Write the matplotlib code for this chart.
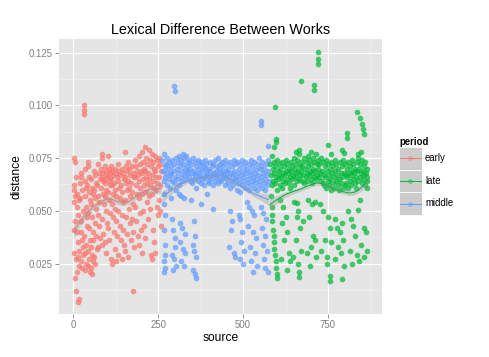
import matplotlib
matplotlib.use("Agg")
import matplotlib.pyplot as plt
from matplotlib.lines import Line2D
from matplotlib.patches import Rectangle
from matplotlib.legend_handler import HandlerBase
from matplotlib.ticker import FixedLocator

plt.rcParams["font.family"] = ["Liberation Sans", "DejaVu Sans"]

# 数据：每个作品的 (source, distance)
periods = ["early", "late", "middle"]
colors = {"early": "#F8766D", "late": "#00BA38", "middle": "#619CFF"}

early_pts = [
    (31, 0.100), (31, 0.098), (32, 0.096),
    (3, 0.075), (4, 0.073), (2, 0.062), (1, 0.060), (5, 0.057), (2, 0.054),
    (6, 0.045), (3, 0.041), (1, 0.030), (4, 0.018), (9, 0.012), (14, 0.007),
    (18, 0.008), (12, 0.021),
    (8, 0.066), (10, 0.058), (12, 0.052), (15, 0.048), (11, 0.040), (14, 0.035),
    (16, 0.031), (13, 0.028), (17, 0.024), (9, 0.027), (19, 0.063), (18, 0.055),
    (22, 0.068), (24, 0.066), (26, 0.060), (21, 0.056), (28, 0.050), (23, 0.045),
    (25, 0.036), (27, 0.033), (29, 0.029), (22, 0.026), (26, 0.023), (24, 0.040),
    (33, 0.070), (35, 0.064), (38, 0.061), (34, 0.057), (36, 0.052), (39, 0.047),
    (32, 0.038), (37, 0.034), (35, 0.030), (38, 0.025), (33, 0.022), (40, 0.043),
    (42, 0.073), (44, 0.071), (47, 0.066), (41, 0.062), (45, 0.059), (48, 0.055),
    (43, 0.049), (46, 0.042), (49, 0.036), (44, 0.031), (47, 0.027), (42, 0.024),
    (48, 0.021),
    (52, 0.065), (55, 0.061), (58, 0.058), (51, 0.053), (54, 0.047), (57, 0.040),
    (53, 0.033), (56, 0.029), (59, 0.026), (52, 0.023), (55, 0.020), (58, 0.036),
    (62, 0.069), (65, 0.067), (68, 0.063), (61, 0.060), (64, 0.056), (67, 0.051),
    (63, 0.044), (66, 0.038), (69, 0.032), (62, 0.028), (65, 0.025),
    (72, 0.072), (75, 0.068), (78, 0.065), (71, 0.062), (74, 0.057), (77, 0.054),
    (73, 0.048), (76, 0.043), (79, 0.037), (72, 0.033),
    (83, 0.077), (85, 0.075), (82, 0.070), (87, 0.068), (84, 0.066), (88, 0.064),
    (81, 0.061), (86, 0.058), (89, 0.053), (83, 0.046), (87, 0.039), (85, 0.034),
    (92, 0.071), (95, 0.069), (98, 0.067), (91, 0.065), (94, 0.063), (97, 0.060),
    (93, 0.057), (96, 0.050), (99, 0.044), (92, 0.035), (95, 0.030),
    (102, 0.076), (105, 0.070), (108, 0.068), (101, 0.066), (104, 0.064),
    (107, 0.062), (103, 0.059), (106, 0.055), (109, 0.049), (102, 0.042),
    (105, 0.036),
    (112, 0.071), (115, 0.069), (118, 0.067), (111, 0.065), (114, 0.062),
    (117, 0.058), (113, 0.053), (116, 0.047), (119, 0.040), (112, 0.027),
    (115, 0.025),
    (122, 0.070), (125, 0.068), (128, 0.066), (121, 0.063), (124, 0.060),
    (127, 0.057), (123, 0.051), (126, 0.045), (129, 0.038), (122, 0.032),
    (125, 0.026),
    (132, 0.072), (135, 0.069), (138, 0.067), (131, 0.064), (134, 0.061),
    (137, 0.056), (133, 0.050), (136, 0.043), (139, 0.036), (132, 0.029),
    (142, 0.070), (145, 0.068), (148, 0.065), (141, 0.062), (144, 0.059),
    (147, 0.054), (143, 0.048), (146, 0.041), (149, 0.034), (142, 0.027),
    (152, 0.078), (155, 0.071), (158, 0.069), (151, 0.066), (154, 0.063),
    (157, 0.060), (153, 0.055), (156, 0.047), (159, 0.039), (152, 0.031),
    (162, 0.073), (165, 0.070), (168, 0.067), (161, 0.064), (164, 0.061),
    (167, 0.057), (163, 0.051), (166, 0.044), (169, 0.036), (162, 0.028),
    (172, 0.071), (175, 0.068), (178, 0.066), (171, 0.063), (174, 0.059),
    (177, 0.053), (173, 0.046), (176, 0.040), (179, 0.033), (175, 0.012),
    (182, 0.074), (185, 0.071), (188, 0.069), (181, 0.066), (184, 0.062),
    (187, 0.058), (183, 0.052), (186, 0.045), (189, 0.038),
    (192, 0.076), (195, 0.072), (198, 0.069), (191, 0.067), (194, 0.064),
    (197, 0.061), (193, 0.056), (196, 0.049), (199, 0.041), (192, 0.034),
    (202, 0.078), (205, 0.073), (208, 0.070), (201, 0.068), (204, 0.065),
    (207, 0.062), (203, 0.058), (206, 0.050), (209, 0.043), (202, 0.030),
    (212, 0.080), (215, 0.075), (218, 0.072), (211, 0.069), (214, 0.066),
    (217, 0.063), (213, 0.059), (216, 0.054), (219, 0.046), (212, 0.037),
    (222, 0.079), (225, 0.074), (228, 0.071), (221, 0.068), (224, 0.065),
    (227, 0.062), (223, 0.057), (226, 0.051), (229, 0.029),
    (232, 0.077), (235, 0.073), (238, 0.070), (231, 0.067), (234, 0.064),
    (237, 0.061), (233, 0.058), (236, 0.041), (239, 0.035), (232, 0.027),
    (242, 0.076), (245, 0.074), (248, 0.071), (241, 0.069), (244, 0.066),
    (247, 0.063), (243, 0.060), (246, 0.052), (249, 0.048), (242, 0.030),
    (251, 0.075), (254, 0.072), (257, 0.069), (252, 0.066), (255, 0.062),
    (253, 0.055), (256, 0.050), (258, 0.043),
]

middle_pts = [
    (262, 0.074), (264, 0.069), (266, 0.064), (267, 0.077), (269, 0.071), (271, 0.066),
    (272, 0.072), (274, 0.068), (276, 0.062), (277, 0.075), (279, 0.070), (281, 0.065),
    (282, 0.073), (284, 0.067), (286, 0.061), (287, 0.071), (289, 0.068), (291, 0.064),
    (292, 0.074), (294, 0.069), (296, 0.063), (297, 0.072), (299, 0.066), (301, 0.060),
    (302, 0.075), (304, 0.070), (306, 0.065), (307, 0.073), (309, 0.068), (311, 0.062),
    (312, 0.076), (314, 0.071), (316, 0.066), (317, 0.074), (319, 0.069), (321, 0.064),
    (322, 0.077), (324, 0.072), (326, 0.067), (327, 0.075), (329, 0.070), (331, 0.065),
    (332, 0.076), (334, 0.071), (336, 0.068), (337, 0.073), (339, 0.069), (341, 0.066),
    (342, 0.074), (344, 0.070), (346, 0.064), (347, 0.072), (349, 0.068), (351, 0.063),
    (352, 0.075), (354, 0.069), (356, 0.065), (357, 0.073), (359, 0.067), (361, 0.061),
    (362, 0.071), (364, 0.068), (366, 0.064), (367, 0.074), (369, 0.070), (371, 0.066),
    (372, 0.072), (374, 0.067), (376, 0.063), (377, 0.073), (379, 0.069), (381, 0.065),
    (382, 0.071), (384, 0.066), (386, 0.062), (387, 0.074), (389, 0.070), (391, 0.067),
    (392, 0.072), (394, 0.068), (396, 0.064), (397, 0.070), (399, 0.066), (401, 0.063),
    (402, 0.073), (404, 0.069), (406, 0.065), (407, 0.071), (409, 0.067), (411, 0.062),
    (412, 0.072), (414, 0.068), (416, 0.064), (417, 0.074), (419, 0.069), (421, 0.066),
    (422, 0.071), (424, 0.067), (426, 0.063), (427, 0.075), (429, 0.070), (431, 0.065),
    (432, 0.072), (434, 0.068), (436, 0.064), (437, 0.073), (439, 0.069), (441, 0.066),
    (442, 0.071), (444, 0.067), (446, 0.062), (447, 0.074), (449, 0.069), (451, 0.065),
    (452, 0.072), (454, 0.068), (456, 0.063), (457, 0.070), (459, 0.066), (461, 0.061),
    (462, 0.073), (464, 0.068), (466, 0.064), (467, 0.071), (469, 0.067), (471, 0.062),
    (472, 0.074), (474, 0.069), (476, 0.065), (477, 0.072), (479, 0.066), (481, 0.060),
    (482, 0.073), (484, 0.068), (486, 0.063), (487, 0.070), (489, 0.065), (491, 0.059),
    (492, 0.072), (494, 0.067), (496, 0.062), (497, 0.074), (499, 0.069), (501, 0.064),
    (502, 0.071), (504, 0.066), (506, 0.061), (507, 0.073), (509, 0.068), (511, 0.063),
    (512, 0.070), (514, 0.065), (516, 0.060), (517, 0.072), (519, 0.067), (521, 0.062),
    (522, 0.074), (524, 0.069), (526, 0.064), (527, 0.071), (529, 0.066), (531, 0.061),
    (532, 0.073), (534, 0.068), (536, 0.063), (537, 0.070), (539, 0.065), (541, 0.060),
    (542, 0.072), (544, 0.067), (546, 0.062), (547, 0.075), (549, 0.070), (551, 0.064),
    (552, 0.071), (554, 0.066), (556, 0.061), (557, 0.073), (559, 0.068), (561, 0.063),
    (562, 0.070), (564, 0.065), (566, 0.060), (567, 0.072), (569, 0.067), (571, 0.062),
    (572, 0.074), (574, 0.069), (575, 0.064),
    # 离群与下方散点
    (297, 0.109), (298, 0.107), (553, 0.0925), (554, 0.0905), (572, 0.0805),
    (266, 0.058), (268, 0.053), (270, 0.048), (267, 0.041), (269, 0.034),
    (271, 0.029), (268, 0.026), (270, 0.023), (266, 0.021),
    (288, 0.056), (292, 0.046), (295, 0.041), (298, 0.037), (300, 0.033),
    (290, 0.029), (296, 0.027), (302, 0.024), (293, 0.022),
    (312, 0.058), (318, 0.057), (325, 0.056), (315, 0.044), (320, 0.042),
    (328, 0.039), (313, 0.035), (322, 0.032), (330, 0.030), (317, 0.026),
    (326, 0.024),
    (348, 0.055), (355, 0.045), (358, 0.038), (352, 0.034), (356, 0.031),
    (360, 0.028), (353, 0.022), (358, 0.020), (360, 0.018),
    (375, 0.053), (410, 0.051), (395, 0.058),
    (462, 0.050), (468, 0.045), (465, 0.041), (472, 0.030), (476, 0.028),
    (460, 0.033),
    (488, 0.048), (492, 0.046), (498, 0.040), (495, 0.035), (502, 0.031),
    (490, 0.027), (500, 0.025),
    (512, 0.054), (518, 0.052), (525, 0.050), (532, 0.048), (515, 0.043),
    (528, 0.040), (538, 0.037), (520, 0.033), (535, 0.030), (522, 0.026),
    (540, 0.024), (530, 0.021),
    (552, 0.052), (560, 0.049), (568, 0.046), (555, 0.042), (565, 0.038),
    (558, 0.034), (570, 0.031), (562, 0.027), (566, 0.023), (572, 0.021),
]

late_pts = [
    (580, 0.072), (582, 0.067), (584, 0.062), (585, 0.076), (587, 0.070), (589, 0.064),
    (590, 0.073), (592, 0.068), (594, 0.063), (595, 0.071), (597, 0.066), (599, 0.060),
    (600, 0.074), (602, 0.069), (604, 0.065), (605, 0.072), (607, 0.067), (609, 0.062),
    (610, 0.070), (612, 0.066), (614, 0.061), (615, 0.073), (617, 0.068), (619, 0.064),
    (620, 0.071), (622, 0.067), (624, 0.063), (625, 0.074), (627, 0.069), (629, 0.065),
    (630, 0.072), (632, 0.068), (634, 0.063), (635, 0.070), (637, 0.066), (639, 0.061),
    (640, 0.073), (642, 0.069), (644, 0.065), (645, 0.071), (647, 0.067), (649, 0.062),
    (650, 0.075), (652, 0.070), (654, 0.066), (655, 0.072), (657, 0.068), (659, 0.064),
    (660, 0.074), (662, 0.069), (664, 0.065), (665, 0.077), (667, 0.071), (669, 0.067),
    (670, 0.073), (672, 0.069), (674, 0.064), (675, 0.071), (677, 0.067), (679, 0.063),
    (680, 0.075), (682, 0.070), (684, 0.066), (685, 0.073), (687, 0.068), (689, 0.064),
    (690, 0.076), (692, 0.071), (694, 0.067), (695, 0.074), (697, 0.069), (699, 0.065),
    (700, 0.072), (702, 0.068), (704, 0.063), (705, 0.075), (707, 0.070), (709, 0.066),
    (710, 0.073), (712, 0.069), (714, 0.065), (715, 0.077), (717, 0.072), (719, 0.067),
    (720, 0.074), (722, 0.070), (724, 0.066), (725, 0.072), (727, 0.068), (729, 0.064),
    (730, 0.075), (732, 0.069), (734, 0.063), (735, 0.073), (737, 0.067), (739, 0.062),
    (740, 0.071), (742, 0.066), (744, 0.061), (745, 0.074), (747, 0.069), (749, 0.064),
    (750, 0.072), (752, 0.067), (754, 0.062), (755, 0.070), (757, 0.065), (759, 0.060),
    (760, 0.073), (762, 0.068), (764, 0.063), (765, 0.071), (767, 0.066), (769, 0.061),
    (770, 0.074), (772, 0.069), (774, 0.064), (775, 0.072), (777, 0.067), (779, 0.062),
    (780, 0.070), (782, 0.065), (784, 0.060), (785, 0.073), (787, 0.068), (789, 0.063),
    (790, 0.071), (792, 0.066), (794, 0.061), (795, 0.074), (797, 0.068), (799, 0.062),
    (800, 0.072), (802, 0.067), (804, 0.063), (805, 0.070), (807, 0.066), (809, 0.061),
    (810, 0.073), (812, 0.068), (814, 0.064), (815, 0.071), (817, 0.067), (819, 0.062),
    (820, 0.074), (822, 0.069), (824, 0.065), (825, 0.072), (827, 0.068), (829, 0.063),
    (830, 0.070), (832, 0.066), (834, 0.061), (835, 0.073), (837, 0.069), (839, 0.064),
    (840, 0.075), (842, 0.070), (844, 0.066), (845, 0.072), (847, 0.068), (849, 0.063),
    (850, 0.074), (852, 0.069), (854, 0.065), (855, 0.071), (857, 0.067), (859, 0.062),
    (860, 0.073), (862, 0.068), (864, 0.064), (865, 0.070), (866, 0.066), (866, 0.061),
    # 带上方的点与离群
    (590, 0.080), (665, 0.079), (700, 0.078), (760, 0.077), (790, 0.079),
    (838, 0.077), (848, 0.078), (655, 0.078), (751, 0.081), (797, 0.0776),
    (720, 0.1255), (720, 0.122), (721, 0.1195), (670, 0.1114), (708, 0.1096),
    (708, 0.1072), (595, 0.099), (597, 0.0838), (597, 0.0825),
    (836, 0.0968), (844, 0.094), (850, 0.091), (854, 0.0886), (857, 0.0862),
    (806, 0.0867), (806, 0.0843),
    # 下方散点
    (582, 0.057), (584, 0.052), (586, 0.048), (585, 0.045), (588, 0.041),
    (590, 0.038), (592, 0.035), (591, 0.032), (594, 0.029), (596, 0.026),
    (598, 0.023), (599, 0.020), (600, 0.018),
    (610, 0.055), (618, 0.052), (625, 0.047), (615, 0.044), (630, 0.040),
    (622, 0.036), (635, 0.030), (612, 0.027), (638, 0.026), (628, 0.022),
    (650, 0.054), (658, 0.0535), (662, 0.050), (660, 0.047), (668, 0.042),
    (655, 0.036), (672, 0.031), (648, 0.028), (662, 0.025), (665, 0.021),
    (666, 0.0185), (678, 0.045),
    (690, 0.055), (702, 0.053), (712, 0.054), (695, 0.047), (705, 0.038),
    (712, 0.036), (700, 0.033), (688, 0.030), (716, 0.028), (698, 0.024),
    (727, 0.053), (735, 0.050), (750, 0.047), (756, 0.042), (740, 0.036),
    (730, 0.031), (746, 0.028), (748, 0.025), (755, 0.0193), (757, 0.0169),
    (760, 0.035),
    (770, 0.046), (778, 0.042), (785, 0.040), (792, 0.044), (780, 0.033),
    (795, 0.036), (788, 0.030), (772, 0.027), (790, 0.0178), (798, 0.024),
    (810, 0.050), (818, 0.046), (825, 0.043), (839, 0.0503), (845, 0.055),
    (857, 0.042), (862, 0.040), (830, 0.038), (848, 0.034), (815, 0.031),
    (835, 0.029), (855, 0.028), (822, 0.025), (842, 0.026), (866, 0.031),
]

# loess 平滑曲线
early_smooth_x = [0, 15, 30, 45, 60, 80, 100, 115, 130, 150, 165, 180, 195, 210, 230, 258]
early_smooth_y = [0.0400, 0.0438, 0.0472, 0.0498, 0.0520, 0.0542, 0.0557, 0.0553, 0.0543,
                  0.0540, 0.0545, 0.0563, 0.0580, 0.0594, 0.0603, 0.0604]
early_smooth_se = [0.0032, 0.0024, 0.0019, 0.0017, 0.0016, 0.0015, 0.0015, 0.0015, 0.0015,
                   0.0015, 0.0015, 0.0015, 0.0015, 0.0016, 0.0019, 0.0026]

middle_smooth_x = [262, 290, 312, 340, 371, 400, 429, 455, 488, 510, 527, 550, 575]
middle_smooth_y = [0.0569, 0.0598, 0.0624, 0.0642, 0.0656, 0.0666, 0.0672, 0.0657,
                   0.0624, 0.0602, 0.0584, 0.0568, 0.0553]
middle_smooth_se = [0.0028, 0.0017, 0.0013, 0.0011, 0.0010, 0.0010, 0.0010, 0.0010,
                    0.0011, 0.0012, 0.0013, 0.0017, 0.0026]

late_smooth_x = [578, 600, 625, 645, 665, 690, 710, 724, 745, 763, 790, 812, 828, 841, 855, 866]
late_smooth_y = [0.0529, 0.0553, 0.0577, 0.0590, 0.0600, 0.0617, 0.0630, 0.0632, 0.0622,
                 0.0608, 0.0592, 0.0584, 0.0588, 0.0600, 0.0620, 0.0645]
late_smooth_se = [0.0030, 0.0019, 0.0014, 0.0012, 0.0011, 0.0011, 0.0011, 0.0011, 0.0011,
                  0.0011, 0.0011, 0.0012, 0.0013, 0.0015, 0.0020, 0.0028]

series = {
    "early": (early_pts, early_smooth_x, early_smooth_y, early_smooth_se),
    "middle": (middle_pts, middle_smooth_x, middle_smooth_y, middle_smooth_se),
    "late": (late_pts, late_smooth_x, late_smooth_y, late_smooth_se),
}

fig = plt.figure(figsize=(489 / 72, 357 / 72), dpi=72)
ax = fig.add_axes([59 / 489, 1 - 314 / 357, 323 / 489, 275 / 357])
ax.set_facecolor("#E5E5E5")

for name in ["early", "middle", "late"]:
    pts = series[name][0]
    xs = [p[0] for p in pts]
    ys = [p[1] for p in pts]
    ax.scatter(xs, ys, s=32, color=colors[name], alpha=0.72,
               linewidths=0, zorder=3)

for name in ["early", "middle", "late"]:
    _, sx, sy, se = series[name]
    lo = [y - e for y, e in zip(sy, se)]
    hi = [y + e for y, e in zip(sy, se)]
    ax.fill_between(sx, lo, hi, color="#999999", alpha=0.35,
                    linewidth=0, zorder=4)
    ax.plot(sx, sy, color=colors[name], lw=1.2, alpha=0.9, zorder=5)

# ggplot 风格的坐标范围（数据两端各扩 5%）
all_x = [p[0] for n in series for p in series[n][0]]
all_y = [p[1] for n in series for p in series[n][0]]
dx = 0.05 * (max(all_x) - min(all_x))
dy = 0.05 * (max(all_y) - min(all_y))
ax.set_xlim(min(all_x) - dx, max(all_x) + dx)
ax.set_ylim(min(all_y) - dy, max(all_y) + dy)

ax.set_xticks([0, 250, 500, 750])
ax.set_yticks([0.025, 0.050, 0.075, 0.100, 0.125])
ax.set_yticklabels(["0.025", "0.050", "0.075", "0.100", "0.125"])
ax.xaxis.set_minor_locator(FixedLocator([125, 375, 625, 875]))
ax.yaxis.set_minor_locator(FixedLocator([0.0125, 0.0375, 0.0625, 0.0875, 0.1125]))
ax.grid(which="major", color="white", lw=1.2, zorder=0)
ax.grid(which="minor", color="#F2F2F2", lw=0.6, zorder=0)
ax.set_axisbelow(True)
ax.tick_params(which="major", length=4, width=0.8, color="#7F7F7F",
               labelcolor="#7F7F7F", labelsize=9.6, pad=2)
ax.tick_params(which="minor", length=0)
for sp in ax.spines.values():
    sp.set_visible(False)

ax.set_title("Lexical Difference Between Works", fontsize=14.4, pad=5)
ax.set_xlabel("source", fontsize=12, labelpad=2)
ax.set_ylabel("distance", fontsize=12, labelpad=6)


class KeyHandler(HandlerBase):
    def create_artists(self, legend, orig_handle, xdescent, ydescent,
                       width, height, fontsize, trans):
        box = Rectangle((-xdescent, -ydescent), width, height,
                        facecolor="#CCCCCC", edgecolor="white",
                        linewidth=0.8, transform=trans)
        y = -ydescent + height / 2
        line = Line2D([-xdescent + 1, -xdescent + width - 1], [y, y],
                      color=orig_handle.get_color(), lw=1.0, transform=trans)
        dot = Line2D([-xdescent + width / 2], [y], marker="o", markersize=4,
                     color=orig_handle.get_color(), alpha=0.35,
                     linestyle="None", transform=trans)
        return [box, line, dot]


handles = [Line2D([], [], color=colors[p], label=p) for p in periods]
fig.legend(handles=handles, handler_map={Line2D: KeyHandler()},
           title="period", loc="upper left", bbox_to_anchor=(399 / 489, 1 - 137 / 357),
           frameon=False, fontsize=9.6,
           title_fontproperties={"weight": "bold", "size": 9.6},
           handlelength=2.36, handleheight=3.26, labelspacing=0.0,
           handletextpad=0.35, borderpad=0, borderaxespad=0, alignment="left")

fig.savefig("out.png", dpi=72)
